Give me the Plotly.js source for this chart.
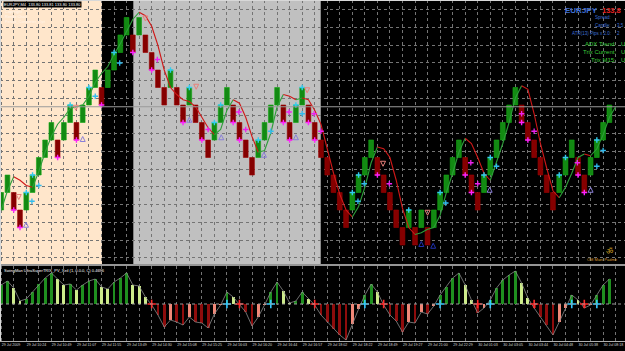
<!DOCTYPE html>
<html><head><meta charset="utf-8">
<script src="https://cdn.plot.ly/plotly-3.0.1.min.js"></script>
<style>html,body{margin:0;padding:0;background:#000;}#chart{width:625px;height:351px;}</style>
</head><body><div id="chart"></div>
<script>
// ---- data ----
const BRICK = 0.1;
const brickClose = [
 133.3,133.4,133.2,133.1,133.3,133.4,133.5,133.6,133.7,133.5,
 133.7,133.8,133.6,133.8,133.9,134.0,133.8,134.0,134.1,134.2,
 134.3,134.1,134.3,134.1,134.0,133.9,133.8,134.0,133.8,133.7,
 133.9,133.7,133.6,133.5,133.7,133.8,133.9,133.7,133.6,133.5,
 133.4,133.6,133.7,133.8,133.9,133.7,133.6,133.8,133.9,133.7,
 133.6,133.5,133.4,133.3,133.2,133.1,133.3,133.4,133.5,133.6,
 133.4,133.3,133.2,133.1,133.0,133.2,133.0,133.2,133.0,133.2,
 133.3,133.4,133.5,133.6,133.4,133.3,133.2,133.4,133.5,133.6,
 133.7,133.8,133.9,133.7,133.6,133.5,133.4,133.3,133.2,133.4,
 133.5,133.6,133.4,133.3,133.5,133.6,133.7,133.8];
const trendLine = [
 133.20,133.31,133.39,133.37,133.34,133.33,133.42,133.53,133.62,133.69,
 133.73,133.78,133.79,133.80,133.85,133.93,133.98,134.02,134.09,134.15,
 134.22,134.29,134.33,134.31,134.25,134.14,134.00,133.90,133.86,133.83,
 133.82,133.79,133.73,133.67,133.63,133.66,133.77,133.83,133.81,133.73,
 133.62,133.53,133.54,133.64,133.79,133.86,133.85,133.83,133.84,133.83,
 133.77,133.69,133.55,133.41,133.29,133.20,133.16,133.22,133.33,133.47,
 133.56,133.55,133.50,133.37,133.21,133.10,133.06,133.07,133.09,133.10,
 133.17,133.30,133.41,133.53,133.61,133.58,133.50,133.41,133.37,133.47,
 133.58,133.70,133.84,133.91,133.89,133.75,133.58,133.44,133.31,133.27,
 133.33,133.41,133.50,133.52,133.51,133.55,133.63,133.73,133.79];
const trixHist = [
 19,23,16,3,5,12,20,26,31,25,
 19,20,14,19,23,25,17,15,22,26,
 31,19,18,7,-1,-11,-23,-16,-18,-21,
 -13,-18,-19,-24,-10,-1,12,7,-1,-8,
 -22,-13,-1,12,22,13,1,3,12,5,
 -1,-11,-18,-25,-31,-36,-20,-5,9,20,
 12,-1,-11,-17,-28,-18,-19,-8,-10,-2,
 9,17,26,31,19,4,-9,-4,4,16,
 24,29,33,21,6,-4,-13,-21,-31,-18,
 -4,9,4,-4,-1,9,19,25];
const timeLabels = ["29 Jul 2009","29 Jul 10:24","29 Jul 10:49","29 Jul 11:07","29 Jul 11:55",
 "29 Jul 13:49","29 Jul 14:30","29 Jul 15:08","29 Jul 15:25","29 Jul 16:03","29 Jul 16:20",
 "29 Jul 16:44","29 Jul 16:57","29 Jul 18:02","29 Jul 18:22","29 Jul 18:49","29 Jul 19:27",
 "29 Jul 21:00","29 Jul 22:29","30 Jul 01:03","30 Jul 03:05","30 Jul 03:44","30 Jul 04:48",
 "30 Jul 05:38","30 Jul 08:18"];
const sessionFrom = [0, 22.07];
const sessionTo = [17.07, 51.96];
const sessionColor = ["#FFE6CB", "#C0C0C0"];
const bidPrice = 133.79;
const cyanTopBricks = [5,6,12,15,19,28,31,35,36,42,48,49,57,58,66,71,78,79,90,91,96];
const magentaBottomBricks = [3,4,10,13,17,22,25,30,33,38,39,46,47,50,51,61,75,76,84,85,93,94];
const cyanPlusX = [5.9,7.0,16.0,19.9,44.0,49.0,57.9,58.9,71.9,80.0,96.0,97.0];
const cyanPlusY = [133.25,133.34,133.85,134.04,133.65,133.75,133.25,133.35,133.24,133.45,133.45,133.54];
const magentaPlusX = [25.9,34.0,38.9,40.0,46.9,50.9,52.0,62.9,75.9,77.0,84.0,86.0,92.9];
const magentaPlusY = [134.06,133.66,133.76,133.66,133.76,133.75,133.65,133.35,133.47,133.35,133.75,133.65,133.47];
const upArrowX = [4.96,14.0,31.0,36.1,42.9,48.0,78.9,95.0];
const upArrowY = [133.13,133.62,133.73,133.63,133.53,133.63,133.33,133.33];
const darkArrowX = [68.0,69.9];
const darkArrowY = [133.02,133.01];
const downArrowX = [3.8,12.9,24.0,32.1,49.8,61.9,69.0];
const downArrowY = [133.26,133.77,134.28,133.89,133.87,133.45,133.17];

// ---- build ----
const W = 625, PH = 341;
const px = x => x / W, py = y => 1 - y / PH;
const idx = brickClose.map((_, i) => i + 1);
const dir = brickClose.map((c, i) => i === 0 ? 1 : (c > brickClose[i - 1] ? 1 : -1));
const base = brickClose.map((c, i) => Math.min(c, c - dir[i] * BRICK));
const traces = [];
traces.push({type:'bar', x: idx, y: brickClose.map(() => BRICK), base: base, width: 0.76,
  marker:{color: dir.map(d => d > 0 ? '#138A13' : '#850000'),
          line:{color: dir.map(d => d > 0 ? '#12A812' : '#9A0000'), width:0.6}},
  xaxis:'x', yaxis:'y', hoverinfo:'skip'});
// trend line in coloured runs
let start = 0;
const segUp = i => trendLine[i + 1] >= trendLine[i];
for (let i = 0; i < trendLine.length - 1; i++) {
  const last = (i === trendLine.length - 2) || (segUp(i + 1) !== segUp(i));
  if (last) {
    const xs = [], ys = [];
    for (let k = start; k <= i + 1; k++) { xs.push(k + 1); ys.push(trendLine[k]); }
    traces.push({type:'scatter', mode:'lines', x: xs, y: ys, xaxis:'x', yaxis:'y',
      line:{color: segUp(i) ? '#2E9E3A' : '#D01818', width:1.1}, hoverinfo:'skip'});
    start = i + 1;
  }
}
const mk = (x, y, sym, size, color, w) => traces.push({type:'scatter', mode:'markers', x, y,
  marker:{symbol:sym, size, color, line:{color, width:w}}, xaxis:'x', yaxis:'y', hoverinfo:'skip'});
mk(cyanTopBricks, cyanTopBricks.map(i => brickClose[i-1]), 'cross-thin-open', 4, '#33CCEE', 1.4);
mk(magentaBottomBricks, magentaBottomBricks.map(i => brickClose[i-1]), 'cross-thin-open', 4, '#FF22FF', 1.4);
mk(cyanPlusX, cyanPlusY, 'cross-thin-open', 4, '#33BBEE', 1.3);
mk(magentaPlusX, magentaPlusY, 'cross-thin-open', 4, '#EE22EE', 1.3);
mk(upArrowX, upArrowY, 'arrow-up-open', 5, '#8A7FD8', 1);
mk(darkArrowX, darkArrowY, 'arrow-up-open', 5, '#2030B0', 1);
mk(downArrowX, downArrowY, 'arrow-down-open', 5, '#E8807A', 1);
// indicator
const histColor = trixHist.map((v, i) => {
  const prev = i === 0 ? v : trixHist[i - 1];
  if (v >= 0) return (i === 0 || v >= prev) ? '#1F8F1F' : '#CDEB8B';
  return (i > 0 && v > prev) ? '#F08878' : '#8E0C0C';
});
traces.push({type:'bar', x: idx, y: trixHist, width:0.45, marker:{color: histColor, line:{width:0}},
  xaxis:'x', yaxis:'y2', hoverinfo:'skip'});
traces.push({type:'scatter', mode:'lines', x: idx, y: trixHist, line:{color:'#8C8C8C', width:0.8},
  xaxis:'x', yaxis:'y2', hoverinfo:'skip'});
const crossX = [], crossY = [], crossC = [];
for (let i = 1; i < trixHist.length; i++) {
  if ((trixHist[i] > 0) !== (trixHist[i - 1] > 0)) {
    crossX.push(i + 1); crossY.push(0); crossC.push(trixHist[i] > 0 ? '#35C8FF' : '#FF2A2A');
  }
}
traces.push({type:'scatter', mode:'markers', x: crossX, y: crossY,
  marker:{symbol:'cross-thin-open', size:6, color: crossC, line:{color: crossC, width:1.6}}, xaxis:'x', yaxis:'y2', hoverinfo:'skip'});

const shapes = [];
sessionFrom.forEach((s, i) => shapes.push({type:'rect', xref:'x', yref:'y domain', x0:s, x1:sessionTo[i], y0:0, y1:1,
  fillcolor: sessionColor[i], line:{width:0}, layer:'below'}));
shapes.push({type:'line', xref:'x domain', yref:'y', x0:0, x1:1, y0:bidPrice, y1:bidPrice, line:{color:'#9A9A9A', width:1}});
shapes.push({type:'line', xref:'x domain', yref:'y2', x0:0, x1:1, y0:0, y1:0, line:{color:'#9A9A9A', width:1, dash:'dot'}});
shapes.push({type:'line', xref:'paper', yref:'paper', x0:0, x1:1, y0:py(265), y1:py(265), line:{color:'#C8C8C8', width:1.5}});
shapes.push({type:'line', xref:'paper', yref:'paper', x0:0, x1:1, y0:py(0.5), y1:py(0.5), line:{color:'#D8D8D8', width:1}});
shapes.push({type:'line', xref:'paper', yref:'paper', x0:px(0.5), x1:px(0.5), y0:0, y1:1, line:{color:'#D8D8D8', width:1}});

const F = 'Liberation Sans, Arial, sans-serif';
const ann = [];
const T = (text, x, y, size, color, anchor, extra) => ann.push(Object.assign({text, x:px(x), y:py(y), xref:'paper', yref:'paper',
  xanchor: anchor || 'left', yanchor:'middle', showarrow:false, font:{family:F, size, color}}, extra || {}));
T('EURJPY,M4  133.80 133.81 133.80 133.80', 3, 5, 4, '#FFFFFF', 'left', {bgcolor:'#000000', borderpad:0});
T('Copyright', 3, 12, 4, '#FFF4EA');
T('Renko Chart', 3, 17, 4, '#FFF4EA');
T('Period_Converter_Opt', 3, 22, 4, '#FFF4EA');
T('<b>EURJPY</b>', 600, 11, 8, '#3D6FD6', 'right');
T('<b>133.8</b>', 623, 11, 7.5, '#E02020', 'right');
T('Spread:', 613, 18, 4.5, '#3D6FD6', 'right');
T('Candle:', 613, 25, 4.5, '#3D6FD6', 'right');
T('3.5', 615, 25, 4.5, '#3D6FD6', 'left');
T('ATR(13) Pips x 2.0:', 613, 33, 4.5, '#3D6FD6', 'right');
T('2', 615, 33, 4.5, '#3D6FD6', 'left');
T('ADX Trend:', 618, 44, 6, '#3CCB3C', 'right');
T('U', 618.5, 44, 6, '#3CCB3C', 'left');
T('Trix Current:', 618, 52, 6, '#3CCB3C', 'right');
T('U', 618.5, 52, 6, '#3CCB3C', 'left');
T('Trix M15:', 618, 60, 6, '#3CCB3C', 'right');
T('U', 618.5, 60, 6, '#3CCB3C', 'left');
T('OM Mani Padme', 620, 259, 4, '#D89A30', 'right');
T('ॐ', 609, 251, 8, '#D4A020', 'center');
T('SwingMan UltraSuperTRIX_PV_Xeil (1, 0.0.0, C) 0.4696', 2, 270, 4, '#FFFFFF', 'left');

const layout = {
  width: W, height: 351, margin:{l:0, r:0, t:0, b:10}, paper_bgcolor:'#000000', plot_bgcolor:'#000000',
  showlegend:false, barmode:'overlay', bargap:0,
  xaxis:{domain:[0,1], anchor:'y2', range:[0.809, 100.49], tickmode:'array',
    tickvals: timeLabels.map((_, i) => 1 + 4 * i), ticktext: timeLabels, ticks:'', ticklen:0, ticklabelstandoff:0,
    ticklabelposition:'outside right', tickangle:0,
    tickfont:{family:F, size:3.6, color:'#D8D8D8'}, showgrid:true, gridcolor:'#747474', griddash:'dot', gridwidth:1,
    minor:{tickmode:'linear', tick0:1, dtick:2, showgrid:true, gridcolor:'#747474', griddash:'dot', gridwidth:1, ticks:''},
    showline:true, linecolor:'#B0B0B0', linewidth:1, zeroline:false, fixedrange:true},
  yaxis:{domain:[(PH - 264) / PH, 1], range:[134.4 - 264 / 175, 134.4], showticklabels:false, ticks:'',
    tickmode:'linear', tick0:134.244, dtick:0.1013, showgrid:true, gridcolor:'#747474', griddash:'dot', gridwidth:1,
    zeroline:false, fixedrange:true},
  yaxis2:{domain:[0, (PH - 266) / PH], range:[-37, 38], showticklabels:false, ticks:'', showgrid:false, zeroline:false, fixedrange:true},
  shapes: shapes, annotations: ann
};
Plotly.newPlot('chart', traces, layout, {staticPlot:true, displayModeBar:false});
</script></body></html>
